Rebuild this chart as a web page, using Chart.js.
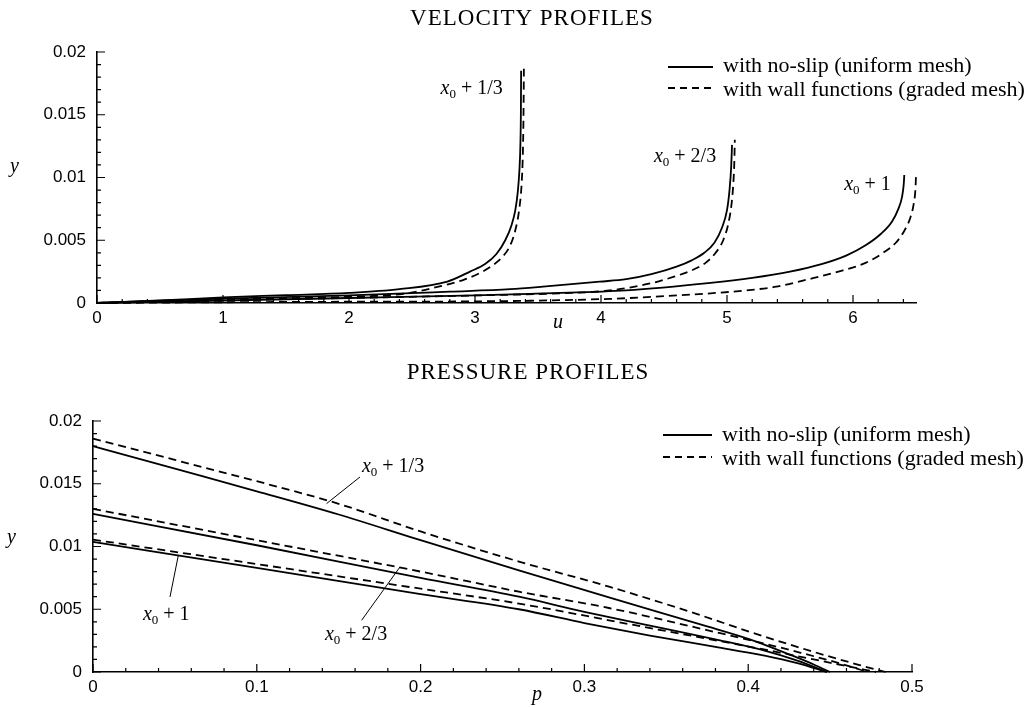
<!DOCTYPE html>
<html>
<head>
<meta charset="utf-8">
<script src="https://cdn.jsdelivr.net/npm/chart.js@4.4.1/dist/chart.umd.min.js"></script>
<style>
html,body{margin:0;padding:0;background:#fff;width:1030px;height:708px;overflow:hidden}
canvas{position:absolute;left:0}
</style>
</head>
<body>
<canvas id="c1" width="1030" height="340" style="top:0px"></canvas>
<canvas id="c2" width="1030" height="368" style="top:340px"></canvas>
<script>
// ---------- Text ----------
const velTitle = 'VELOCITY PROFILES';
const presTitle = 'PRESSURE PROFILES';
const legendLabels = ['with no-slip (uniform mesh)', 'with wall functions (graded mesh)'];
const stationLabels = ['1/3', '2/3', '1'];

// ---------- Tick values / labels ----------
const velXTicks = [0, 1, 2, 3, 4, 5, 6];
const velXTickLabels = ['0', '1', '2', '3', '4', '5', '6'];
const presXTicks = [0, 0.1, 0.2, 0.3, 0.4, 0.5];
const presXTickLabels = ['0', '0.1', '0.2', '0.3', '0.4', '0.5'];
const yTicks = [0, 0.005, 0.01, 0.015, 0.02];
const yTickLabels = ['0', '0.005', '0.01', '0.015', '0.02'];

// ---------- Velocity profiles (u, y) ----------
const velU_13_noslip = [0, 0.5, 1.0, 1.5, 2.0, 2.4, 2.78, 2.96, 3.08, 3.17, 3.24, 3.29, 3.32, 3.34, 3.352, 3.36, 3.364, 3.366];
const velY_13_noslip = [0, 0.0002, 0.00045, 0.00062, 0.0008, 0.0011, 0.0017, 0.0025, 0.0031, 0.0039, 0.005, 0.0062, 0.0074, 0.0089, 0.0105, 0.0125, 0.015, 0.0185];
const velU_13_wall = [0, 1.0, 2.0, 2.46, 2.75, 2.91, 3.04, 3.14, 3.22, 3.28, 3.32, 3.35, 3.37, 3.38, 3.385, 3.388];
const velY_13_wall = [0, 0.0003, 0.0005, 0.00077, 0.0014, 0.00185, 0.0024, 0.003, 0.0037, 0.0046, 0.0058, 0.0074, 0.0095, 0.012, 0.015, 0.0187];

const velU_23_noslip = [0, 1.0, 2.0, 2.8, 3.28, 3.54, 3.99, 4.2, 4.4, 4.6, 4.72, 4.82, 4.9, 4.96, 5.0, 5.02, 5.033, 5.04];
const velY_23_noslip = [0, 0.00035, 0.0006, 0.0009, 0.0011, 0.0013, 0.0017, 0.0019, 0.0023, 0.0029, 0.0034, 0.004, 0.0048, 0.006, 0.0074, 0.009, 0.0108, 0.0126];
const velU_23_wall = [0, 1.0, 2.0, 3.0, 3.67, 4.07, 4.41, 4.58, 4.72, 4.83, 4.91, 4.97, 5.01, 5.035, 5.05, 5.058, 5.062];
const velY_23_wall = [0, 0.0002, 0.0004, 0.0006, 0.00077, 0.001, 0.0016, 0.0021, 0.0026, 0.0032, 0.004, 0.005, 0.0063, 0.0078, 0.0095, 0.0112, 0.013];

const velU_1_noslip = [0, 1.0, 2.0, 3.0, 3.54, 4.2, 4.87, 5.2, 5.5, 5.75, 5.95, 6.1, 6.22, 6.31, 6.36, 6.39, 6.403, 6.407];
const velY_1_noslip = [0, 0.0002, 0.0004, 0.0006, 0.00077, 0.001, 0.0016, 0.002, 0.0025, 0.0031, 0.0038, 0.0046, 0.0055, 0.0065, 0.0075, 0.0085, 0.0095, 0.0102];
const velU_1_wall = [0, 1.0, 2.0, 3.0, 4.07, 4.6, 4.87, 5.15, 5.39, 5.65, 5.92, 6.1, 6.24, 6.34, 6.41, 6.455, 6.48, 6.495, 6.5];
const velY_1_wall = [0, 0.00006, 0.0001, 0.00013, 0.00033, 0.0006, 0.00077, 0.001, 0.0013, 0.0019, 0.0026, 0.0032, 0.004, 0.0048, 0.0058, 0.0068, 0.0078, 0.009, 0.0101];

// ---------- Pressure profiles (p, y) ----------
const presP_13_noslip = [0, 0.05, 0.1, 0.15, 0.2, 0.26, 0.316, 0.376, 0.401, 0.427, 0.44, 0.45];
const presY_13_noslip = [0.018, 0.0162, 0.0144, 0.01255, 0.0105, 0.0081, 0.0059, 0.0036, 0.0026, 0.0013, 0.0006, 0];
const presP_13_wall = [0, 0.05, 0.1, 0.15, 0.2, 0.26, 0.315, 0.368, 0.401, 0.4375, 0.468, 0.484];
const presY_13_wall = [0.0186, 0.0169, 0.0152, 0.0134, 0.0112, 0.0088, 0.0068, 0.00465, 0.0032, 0.0017, 0.00055, 0];

const presP_23_noslip = [0, 0.1, 0.2, 0.26, 0.3, 0.34, 0.38, 0.41, 0.43, 0.448];
const presY_23_noslip = [0.0126, 0.0101, 0.0075, 0.006, 0.0048, 0.0037, 0.0026, 0.0017, 0.0009, 0];
const presP_23_wall = [0, 0.1, 0.2, 0.26, 0.315, 0.376, 0.427, 0.468, 0.472];
const presY_23_wall = [0.013, 0.0105, 0.008, 0.0064, 0.0051, 0.0033, 0.0017, 0.0002, 0];

const presP_1_noslip = [0, 0.1, 0.2, 0.26, 0.3, 0.34, 0.38, 0.41, 0.43, 0.448];
const presY_1_noslip = [0.01036, 0.0083, 0.0062, 0.005, 0.0039, 0.0029, 0.002, 0.0013, 0.0007, 0];
const presP_1_wall = [0, 0.1, 0.2, 0.26, 0.336, 0.407, 0.458, 0.478];
const presY_1_wall = [0.01055, 0.0086, 0.00664, 0.00545, 0.0036, 0.00186, 0.00053, 0];

// ---------- Annotation anchors (data coordinates) ----------
const velAnnot = [
  {text: stationLabels[0], x: 2.727, y: 0.01665},
  {text: stationLabels[1], x: 4.42, y: 0.01124},
  {text: stationLabels[2], x: 5.93, y: 0.0090}
];
const presAnnot = [
  {text: stationLabels[0], x: 0.1642, y: 0.01594, lx1: 0.163, ly1: 0.01554, lx2: 0.1426, ly2: 0.01342},
  {text: stationLabels[2], x: 0.0305, y: 0.00418, lx1: 0.047, ly1: 0.00598, lx2: 0.0521, ly2: 0.0093},
  {text: stationLabels[1], x: 0.1416, y: 0.00258, lx1: 0.164, ly1: 0.00412, lx2: 0.1874, ly2: 0.00837}
];

// ---------- Helpers ----------
const pts = (xs, ys) => xs.map((v, i) => ({x: v, y: ys[i]}));
const SERIF = '"Liberation Serif", "Times New Roman", serif';
const SANS = '"Liberation Sans", Arial, sans-serif';
const DASH = [8, 5];

function ds(label, xs, ys, dashed) {
  return {
    label: label,
    data: pts(xs, ys),
    showLine: true,
    borderColor: '#000',
    backgroundColor: '#000',
    borderWidth: 1.8,
    borderDash: dashed ? DASH : [],
    pointRadius: 0,
    pointHoverRadius: 0,
    cubicInterpolationMode: 'monotone',
    fill: false,
    clip: false
  };
}

function stationText(ctx, px, py, suffix) {
  ctx.textAlign = 'left';
  ctx.textBaseline = 'alphabetic';
  ctx.font = 'italic 20px ' + SERIF;
  ctx.fillText('x', px, py);
  let w = ctx.measureText('x').width;
  ctx.font = '13px ' + SERIF;
  ctx.fillText('0', px + w, py + 4);
  w += ctx.measureText('0').width;
  ctx.font = '20px ' + SERIF;
  ctx.fillText(' + ' + suffix, px + w, py);
}

function decorPlugin(o) {
  return {
    id: 'decor',
    afterDraw(chart) {
      const ctx = chart.ctx, a = chart.chartArea;
      const xs = chart.scales.x, ys = chart.scales.y;
      ctx.save();
      ctx.fillStyle = '#000';
      ctx.strokeStyle = '#000';
      // inward major/minor ticks
      ctx.lineWidth = 1.2;
      ctx.setLineDash([]);
      ctx.beginPath();
      const nx = Math.floor((o.xEnd - xs.min) / o.xMinor + 1e-6);
      for (let i = 0; i <= nx; i++) {
        const px = xs.getPixelForValue(xs.min + i * o.xMinor);
        const L = (i % o.xRatio === 0) ? 8 : 4;
        ctx.moveTo(px, a.bottom);
        ctx.lineTo(px, a.bottom - L);
      }
      const ny = Math.floor((ys.max - ys.min) / o.yMinor + 1e-6);
      for (let i = 0; i <= ny; i++) {
        const py = ys.getPixelForValue(ys.min + i * o.yMinor);
        const L = (i % o.yRatio === 0) ? 8 : 4;
        ctx.moveTo(a.left, py);
        ctx.lineTo(a.left + L, py);
      }
      ctx.stroke();

      // title
      ctx.font = '23px ' + SERIF;
      if ('letterSpacing' in ctx) ctx.letterSpacing = '1px';
      ctx.textAlign = 'center';
      ctx.textBaseline = 'alphabetic';
      ctx.fillText(o.title, o.titleX, o.titleY);
      if ('letterSpacing' in ctx) ctx.letterSpacing = '0px';

      // legend
      ctx.lineWidth = 1.8;
      ctx.beginPath(); ctx.setLineDash([]);
      ctx.moveTo(o.legX1, o.legLine[0]); ctx.lineTo(o.legX2, o.legLine[0]); ctx.stroke();
      ctx.beginPath(); ctx.setLineDash([7, 5]);
      ctx.moveTo(o.legX1, o.legLine[1]); ctx.lineTo(o.legX2, o.legLine[1]); ctx.stroke();
      ctx.setLineDash([]);
      ctx.font = '22px ' + SERIF;
      ctx.textAlign = 'left';
      ctx.fillText(legendLabels[0], o.legTextX, o.legBase[0]);
      ctx.fillText(legendLabels[1], o.legTextX, o.legBase[1]);

      // axis titles
      ctx.font = 'italic 20px ' + SERIF;
      ctx.fillText('y', o.yLabX, o.yLabY);
      ctx.fillText(o.xName, o.xLabX, o.xLabY);

      // station annotations
      ctx.lineWidth = 1;
      o.annot.forEach(an => {
        stationText(ctx, xs.getPixelForValue(an.x), ys.getPixelForValue(an.y), an.text);
        if (an.lx1 !== undefined) {
          ctx.beginPath();
          ctx.moveTo(xs.getPixelForValue(an.lx1), ys.getPixelForValue(an.ly1));
          ctx.lineTo(xs.getPixelForValue(an.lx2), ys.getPixelForValue(an.ly2));
          ctx.stroke();
        }
      });
      ctx.restore();
    }
  };
}

function makeScales(xMax, xTicks, xLabels, yWidth, xHeight) {
  return {
    x: {
      type: 'linear', min: 0, max: xMax,
      afterBuildTicks: s => { s.ticks = xTicks.map(v => ({value: v})); },
      ticks: {
        callback: (v, i) => xLabels[i],
        color: '#000', font: {family: SANS, size: 17}, padding: 5,
        autoSkip: false, maxRotation: 0, minRotation: 0
      },
      grid: {drawOnChartArea: false, drawTicks: false},
      border: {display: true, color: '#000', width: 1.6},
      afterFit: s => { s.height = xHeight; }
    },
    y: {
      type: 'linear', min: 0, max: 0.02,
      afterBuildTicks: s => { s.ticks = yTicks.map(v => ({value: v})); },
      ticks: {
        callback: (v, i) => yTickLabels[i],
        color: '#000', font: {family: SANS, size: 17}, padding: 11,
        autoSkip: false
      },
      grid: {drawOnChartArea: false, drawTicks: false},
      border: {display: true, color: '#000', width: 1.6},
      afterFit: s => { s.width = yWidth; }
    }
  };
}

const commonOpts = {
  responsive: false,
  animation: false,
  devicePixelRatio: 1,
  events: [],
  plugins: {legend: {display: false}, title: {display: false}, tooltip: {enabled: false}}
};

// ---------- Velocity chart ----------
new Chart(document.getElementById('c1'), {
  type: 'scatter',
  data: {
    datasets: [
      ds(legendLabels[0] + ' ' + stationLabels[0], velU_13_noslip, velY_13_noslip, false),
      ds(legendLabels[1] + ' ' + stationLabels[0], velU_13_wall, velY_13_wall, true),
      ds(legendLabels[0] + ' ' + stationLabels[1], velU_23_noslip, velY_23_noslip, false),
      ds(legendLabels[1] + ' ' + stationLabels[1], velU_23_wall, velY_23_wall, true),
      ds(legendLabels[0] + ' ' + stationLabels[2], velU_1_noslip, velY_1_noslip, false),
      ds(legendLabels[1] + ' ' + stationLabels[2], velU_1_wall, velY_1_wall, true)
    ]
  },
  options: Object.assign({}, commonOpts, {
    layout: {padding: {top: 52, right: 114, bottom: 0, left: 0}},
    scales: makeScales(6.5, velXTicks, velXTickLabels, 97, 37)
  }),
  plugins: [decorPlugin({
    xEnd: 6.5, xMinor: 0.2, xRatio: 5, yMinor: 0.001, yRatio: 5,
    title: velTitle, titleX: 532, titleY: 25,
    legX1: 668, legX2: 713, legLine: [67, 88], legTextX: 723, legBase: [72, 96],
    yLabX: 10, yLabY: 172, xName: 'u', xLabX: 553, xLabY: 328,
    annot: velAnnot
  })]
});

// ---------- Pressure chart ----------
new Chart(document.getElementById('c2'), {
  type: 'scatter',
  data: {
    datasets: [
      ds(legendLabels[0] + ' ' + stationLabels[0], presP_13_noslip, presY_13_noslip, false),
      ds(legendLabels[1] + ' ' + stationLabels[0], presP_13_wall, presY_13_wall, true),
      ds(legendLabels[0] + ' ' + stationLabels[1], presP_23_noslip, presY_23_noslip, false),
      ds(legendLabels[1] + ' ' + stationLabels[1], presP_23_wall, presY_23_wall, true),
      ds(legendLabels[0] + ' ' + stationLabels[2], presP_1_noslip, presY_1_noslip, false),
      ds(legendLabels[1] + ' ' + stationLabels[2], presP_1_wall, presY_1_wall, true)
    ]
  },
  options: Object.assign({}, commonOpts, {
    layout: {padding: {top: 81, right: 118, bottom: 0, left: 0}},
    scales: makeScales(0.5, presXTicks, presXTickLabels, 93, 36)
  }),
  plugins: [decorPlugin({
    xEnd: 0.5, xMinor: 0.02, xRatio: 5, yMinor: 0.001, yRatio: 5,
    title: presTitle, titleX: 528, titleY: 39,
    legX1: 663, legX2: 712, legLine: [95, 117], legTextX: 722, legBase: [101, 125],
    yLabX: 7, yLabY: 203, xName: 'p', xLabX: 532, xLabY: 360,
    annot: presAnnot
  })]
});
</script>
</body>
</html>
